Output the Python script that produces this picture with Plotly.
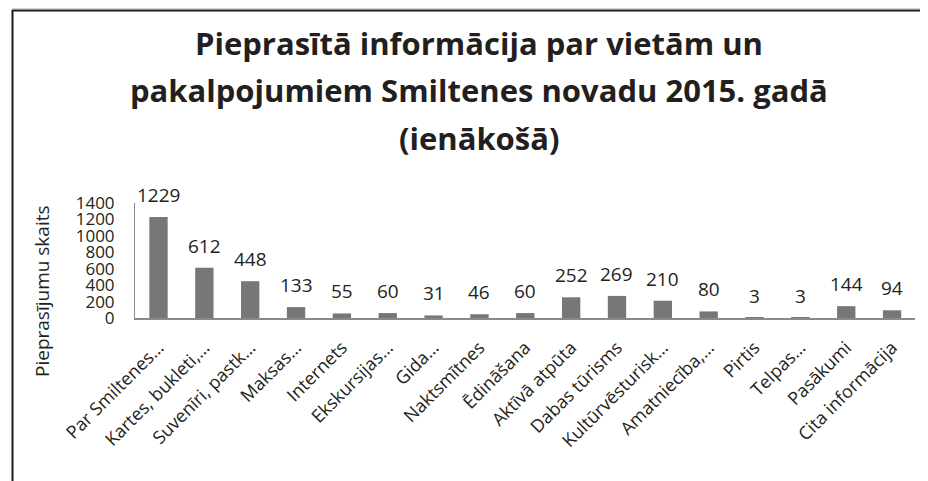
import plotly.graph_objects as go

categories = ["Par Smiltenes…", "Kartes, bukleti,…", "Suvenīri, pastk…", "Maksas…",
              "Internets", "Ekskursijas…", "Gida…", "Naktsmītnes", "Ēdināšana",
              "Aktīvā atpūta", "Dabas tūrisms", "Kultūrvēsturisk…", "Amatniecība,…",
              "Pirtis", "Telpas…", "Pasākumi", "Cita informācija"]
values = [1229, 612, 448, 133, 55, 60, 31, 46, 60, 252, 269, 210, 80, 3, 3, 144, 94]
y_ticks = [0, 200, 400, 600, 800, 1000, 1200, 1400]
title_lines = ["Pieprasītā informācija par vietām un",
               "pakalpojumiem Smiltenes novadu 2015. gadā",
               "(ienākošā)"]
y_title = "Pieprasījumu skaits"

OFF = 8  # page body margin
W, H = 928 - OFF, 481 - OFF
# plot area in page pixels: x 135..915, y 203..318
L, R, T, B = 135 - OFF, W - (915 - OFF), 203 - OFF, H - (318 - OFF)
PW, PH = W - L - R, H - T - B

def px(x):
    return (x - OFF - L) / PW

def py(y):
    return (H - B - (y - OFF)) / PH

TXT = "#231f20"
FONT = "Open Sans"

fig = go.Figure(go.Bar(x=categories, y=values, marker_color="#77777a",
                       marker_line_width=0, width=0.4))

ann = []
for c, v in zip(categories, values):
    ann.append(dict(x=c, y=v, xref="x", yref="y", text=str(v), showarrow=False,
                    yanchor="bottom", yshift=7, font=dict(family=FONT, size=19, color=TXT)))
for line, yc in zip(title_lines, [43, 90, 138]):
    ann.append(dict(x=px(479), y=py(yc), xref="paper", yref="paper", text="<b>" + line + "</b>",
                    showarrow=False, xanchor="center", yanchor="middle",
                    font=dict(family=FONT, size=31, color=TXT)))
ann.append(dict(x=px(42), y=py(291), xref="paper", yref="paper", text=y_title, textangle=-90,
                showarrow=False, xanchor="center", yanchor="middle",
                font=dict(family=FONT, size=19, color=TXT)))

shapes = [
    dict(type="line", xref="paper", yref="paper", x0=px(12), x1=px(940), y0=py(8), y1=py(8),
         line=dict(color="#aaaaaa", width=1)),
    dict(type="line", xref="paper", yref="paper", x0=px(12), x1=px(940), y0=py(10.5), y1=py(10.5),
         line=dict(color="#1a1a1a", width=2)),
    dict(type="line", xref="paper", yref="paper", x0=px(12.5), x1=px(12.5), y0=py(10), y1=py(490),
         line=dict(color="#1a1a1a", width=2)),
]

fig.update_layout(
    width=W, height=H, margin=dict(l=L, r=R, t=T, b=B, autoexpand=False),
    paper_bgcolor="white", plot_bgcolor="white", showlegend=False,
    annotations=ann, shapes=shapes, bargap=0.6,
    xaxis=dict(showline=True, linecolor="#8a8a8a", linewidth=2, ticks="", tickangle=-45,
               tickfont=dict(family=FONT, size=18, color=TXT), showgrid=False,
               ticklabelstandoff=10),
    yaxis=dict(range=[0, 1400], tickvals=y_ticks, showline=True, linecolor="#8a8a8a", linewidth=1,
               ticks="", showgrid=False, zeroline=False, ticklabelstandoff=16,
               tickfont=dict(family=FONT, size=17, color=TXT)),
)

fig.write_html("out.html")
